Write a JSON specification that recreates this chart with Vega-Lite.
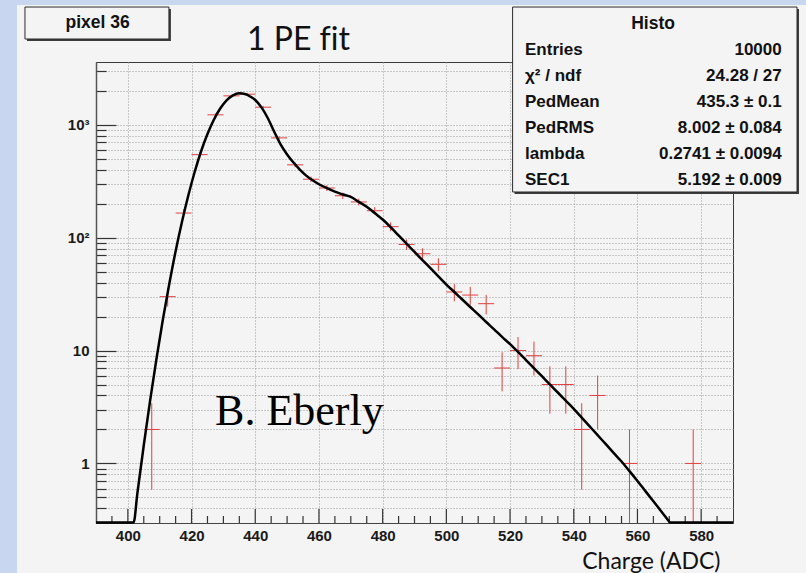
{
  "$schema": "https://vega.github.io/schema/vega-lite/v6.json",
  "width": 637,
  "height": 461,
  "autosize": {"type": "none"},
  "padding": {"left": 96, "top": 62, "right": 73, "bottom": 50},
  "background": "#f4f4f4",
  "config": {
    "view": {"stroke": "#3a3a3a", "strokeWidth": 1},
    "text": {"font": "Liberation Sans"}
  },
  "datasets": {
    "hist": [
      {"x": 407.5, "x0": 405, "x1": 410, "n": 2, "lo": 0.586, "hi": 3.414},
      {"x": 412.5, "x0": 410, "x1": 415, "n": 30, "lo": 24.52, "hi": 35.48},
      {"x": 417.5, "x0": 415, "x1": 420, "n": 165, "lo": 152.2, "hi": 177.8},
      {"x": 422.5, "x0": 420, "x1": 425, "n": 543, "lo": 519.7, "hi": 566.3},
      {"x": 427.5, "x0": 425, "x1": 430, "n": 1222, "lo": 1187, "hi": 1257},
      {"x": 432.5, "x0": 430, "x1": 435, "n": 1800, "lo": 1757.6, "hi": 1842.4},
      {"x": 437.5, "x0": 435, "x1": 440, "n": 1863, "lo": 1819.8, "hi": 1906.2},
      {"x": 442.5, "x0": 440, "x1": 445, "n": 1429, "lo": 1391.2, "hi": 1466.8},
      {"x": 447.5, "x0": 445, "x1": 450, "n": 764, "lo": 736.4, "hi": 791.6},
      {"x": 452.5, "x0": 450, "x1": 455, "n": 441, "lo": 420, "hi": 462},
      {"x": 457.5, "x0": 455, "x1": 460, "n": 329, "lo": 310.9, "hi": 347.1},
      {"x": 462.5, "x0": 460, "x1": 465, "n": 275, "lo": 258.4, "hi": 291.6},
      {"x": 467.5, "x0": 465, "x1": 470, "n": 235, "lo": 219.7, "hi": 250.3},
      {"x": 472.5, "x0": 470, "x1": 475, "n": 207, "lo": 192.6, "hi": 221.4},
      {"x": 477.5, "x0": 475, "x1": 480, "n": 173, "lo": 159.8, "hi": 186.2},
      {"x": 482.5, "x0": 480, "x1": 485, "n": 125, "lo": 113.8, "hi": 136.2},
      {"x": 487.5, "x0": 485, "x1": 490, "n": 87, "lo": 77.7, "hi": 96.3},
      {"x": 492.5, "x0": 490, "x1": 495, "n": 72, "lo": 63.5, "hi": 80.5},
      {"x": 497.5, "x0": 495, "x1": 500, "n": 58, "lo": 50.4, "hi": 65.6},
      {"x": 502.5, "x0": 500, "x1": 505, "n": 33, "lo": 27.3, "hi": 38.7},
      {"x": 507.5, "x0": 505, "x1": 510, "n": 31, "lo": 25.4, "hi": 36.6},
      {"x": 512.5, "x0": 510, "x1": 515, "n": 26, "lo": 20.9, "hi": 31.1},
      {"x": 517.5, "x0": 515, "x1": 520, "n": 7, "lo": 4.35, "hi": 9.65},
      {"x": 522.5, "x0": 520, "x1": 525, "n": 10, "lo": 6.84, "hi": 13.16},
      {"x": 527.5, "x0": 525, "x1": 530, "n": 9, "lo": 6, "hi": 12},
      {"x": 532.5, "x0": 530, "x1": 535, "n": 5, "lo": 2.76, "hi": 7.24},
      {"x": 537.5, "x0": 535, "x1": 540, "n": 5, "lo": 2.76, "hi": 7.24},
      {"x": 542.5, "x0": 540, "x1": 545, "n": 2, "lo": 0.586, "hi": 3.414},
      {"x": 547.5, "x0": 545, "x1": 550, "n": 4, "lo": 2, "hi": 6},
      {"x": 557.5, "x0": 555, "x1": 560, "n": 1, "lo": 0, "hi": 2},
      {"x": 577.5, "x0": 575, "x1": 580, "n": 1, "lo": 0, "hi": 2}
    ],
    "fit": [
      {"x": 390, "y": 0.3}, {"x": 401.8, "y": 0.3}, {"x": 403, "y": 0.546}, {"x": 405, "y": 1.45},
      {"x": 407, "y": 3.62}, {"x": 409, "y": 8.5}, {"x": 411, "y": 18.8}, {"x": 413, "y": 38.8},
      {"x": 415, "y": 75.8}, {"x": 417, "y": 138}, {"x": 419, "y": 237}, {"x": 421, "y": 383},
      {"x": 423, "y": 582}, {"x": 425, "y": 828}, {"x": 427, "y": 1107}, {"x": 429, "y": 1390},
      {"x": 431, "y": 1641}, {"x": 433, "y": 1819}, {"x": 435, "y": 1895}, {"x": 437, "y": 1862},
      {"x": 438.5, "y": 1770}, {"x": 440, "y": 1655}, {"x": 442, "y": 1415}, {"x": 444, "y": 1135},
      {"x": 446, "y": 862}, {"x": 448, "y": 665}, {"x": 450, "y": 545}, {"x": 452, "y": 462},
      {"x": 454, "y": 400}, {"x": 456, "y": 354}, {"x": 458, "y": 322}, {"x": 460, "y": 297},
      {"x": 462.5, "y": 274}, {"x": 465, "y": 255}, {"x": 467.5, "y": 241}, {"x": 470, "y": 229},
      {"x": 472.5, "y": 207}, {"x": 475, "y": 188}, {"x": 477.5, "y": 165}, {"x": 480, "y": 144.5},
      {"x": 482.5, "y": 123.6}, {"x": 485, "y": 104.5}, {"x": 487.5, "y": 88.3}, {"x": 490, "y": 74.8},
      {"x": 492.5, "y": 63.2}, {"x": 495, "y": 53.6}, {"x": 497.5, "y": 45.3}, {"x": 500, "y": 38.4},
      {"x": 502.5, "y": 33.0}, {"x": 505, "y": 28.3}, {"x": 507.5, "y": 24.3}, {"x": 510, "y": 20.9},
      {"x": 512.5, "y": 17.9}, {"x": 515, "y": 15.4}, {"x": 517.5, "y": 13.2}, {"x": 520, "y": 11.4},
      {"x": 522.5, "y": 9.72}, {"x": 525, "y": 8.24}, {"x": 527.5, "y": 6.98}, {"x": 530, "y": 5.92},
      {"x": 532.5, "y": 5.01}, {"x": 535, "y": 4.25}, {"x": 537.5, "y": 3.6}, {"x": 540, "y": 3.05},
      {"x": 542.5, "y": 2.55}, {"x": 545, "y": 2.13}, {"x": 547.5, "y": 1.78}, {"x": 550, "y": 1.49},
      {"x": 552.5, "y": 1.24}, {"x": 555, "y": 1.04}, {"x": 557.5, "y": 0.855}, {"x": 560, "y": 0.70},
      {"x": 562.5, "y": 0.569}, {"x": 565, "y": 0.462}, {"x": 567.5, "y": 0.376}, {"x": 570, "y": 0.305},
      {"x": 570.2, "y": 0.3}, {"x": 590, "y": 0.3}
    ],
    "minor_ticks": [
      {"x": 395}, {"x": 405}, {"x": 410}, {"x": 415}, {"x": 425}, {"x": 430}, {"x": 435},
      {"x": 445}, {"x": 450}, {"x": 455}, {"x": 465}, {"x": 470}, {"x": 475},
      {"x": 485}, {"x": 490}, {"x": 495}, {"x": 505}, {"x": 510}, {"x": 515},
      {"x": 525}, {"x": 530}, {"x": 535}, {"x": 545}, {"x": 550}, {"x": 555},
      {"x": 565}, {"x": 570}, {"x": 575}, {"x": 585}
    ],
    "major_ticks": [
      {"x": 400}, {"x": 420}, {"x": 440}, {"x": 460}, {"x": 480},
      {"x": 500}, {"x": 520}, {"x": 540}, {"x": 560}, {"x": 580}
    ],
    "stats": [
      {"row": 0, "label": "Entries", "value": "10000"},
      {"row": 1, "label": "χ² / ndf", "value": "24.28 / 27"},
      {"row": 2, "label": "PedMean", "value": "435.3 ± 0.1"},
      {"row": 3, "label": "PedRMS", "value": "8.002 ± 0.084"},
      {"row": 4, "label": "lambda", "value": "0.2741 ± 0.0094"},
      {"row": 5, "label": "SEC1", "value": "5.192 ± 0.009"}
    ]
  },
  "layer": [
    {
      "data": {"name": "hist"},
      "transform": [{"calculate": "max(datum.lo, 0.297)", "as": "lo_c"}],
      "mark": {"type": "rule", "color": "#e2403f", "strokeWidth": 1},
      "encoding": {
        "x": {
          "field": "x", "type": "quantitative",
          "scale": {"domain": [390, 590], "nice": false, "zero": false},
          "axis": {
            "title": "Charge (ADC)",
            "values": [400, 420, 440, 460, 480, 500, 520, 540, 560, 580],
            "format": "d",
            "ticks": false,
            "labelFont": "Liberation Sans",
            "labelFontSize": 15, "labelFontWeight": "bold", "labelColor": "#1a1a1a",
            "labelPadding": 5, "labelFlush": false, "labelOverlap": false,
            "domainColor": "#444444", "domainWidth": 1.2,
            "grid": true, "gridColor": "#9a9a9a", "gridDash": [1, 2], "gridWidth": 1,
            "titleFont": "Lato", "titleFontSize": 23, "titleFontWeight": "normal", "titleColor": "#111111",
            "titleAlign": "right", "titleBaseline": "alphabetic", "titleX": 624, "titleY": 45
          }
        },
        "y": {
          "field": "lo_c", "type": "quantitative",
          "scale": {"type": "log", "domain": [0.297, 3590], "nice": false},
          "axis": {
            "title": null,
            "values": [0.4, 0.5, 0.6, 0.7, 0.8, 0.9, 1, 2, 3, 4, 5, 6, 7, 8, 9, 10, 20, 30, 40, 50, 60, 70, 80, 90, 100, 200, 300, 400, 500, 600, 700, 800, 900, 1000, 2000, 3000],
            "labelExpr": "datum.value === 1 ? '1' : datum.value === 10 ? '10' : datum.value === 100 ? '10²' : datum.value === 1000 ? '10³' : ''",
            "labelFont": "Liberation Sans",
            "labelFontSize": 15, "labelFontWeight": "bold", "labelColor": "#1a1a1a",
            "labelPadding": 27, "labelFlush": false, "labelOverlap": false,
            "tickSize": {"condition": {"test": "datum.value === 1 || datum.value === 10 || datum.value === 100 || datum.value === 1000", "value": -20}, "value": -10},
            "tickColor": "#333333", "tickWidth": 1.2,
            "domainColor": "#555555", "domainWidth": 1.5,
            "grid": true, "gridColor": "#9a9a9a", "gridDash": [1, 2], "gridWidth": 1
          }
        },
        "y2": {"field": "hi"}
      }
    },
    {
      "data": {"name": "minor_ticks"},
      "mark": {"type": "rule", "color": "#333333", "strokeWidth": 1.2},
      "encoding": {
        "x": {"field": "x", "type": "quantitative"},
        "y": {"datum": 0.297},
        "y2": {"datum": 0.3427}
      }
    },
    {
      "data": {"name": "major_ticks"},
      "mark": {"type": "rule", "color": "#333333", "strokeWidth": 1.2},
      "encoding": {
        "x": {"field": "x", "type": "quantitative"},
        "y": {"datum": 0.297},
        "y2": {"datum": 0.3952}
      }
    },
    {
      "data": {"name": "hist"},
      "mark": {"type": "rule", "color": "#e2403f", "strokeWidth": 1},
      "encoding": {
        "x": {"field": "x0", "type": "quantitative"},
        "x2": {"field": "x1"},
        "y": {"field": "n", "type": "quantitative"}
      }
    },
    {
      "data": {"name": "fit"},
      "mark": {"type": "line", "color": "#000000", "strokeWidth": 2.5, "interpolate": "monotone", "clip": false},
      "encoding": {
        "x": {"field": "x", "type": "quantitative"},
        "y": {"field": "y", "type": "quantitative"}
      }
    },
    {
      "data": {"values": [{}]},
      "mark": {"type": "text", "font": "Liberation Serif", "fontSize": 44, "align": "left", "baseline": "alphabetic", "color": "#000000"},
      "encoding": {"x": {"datum": 427.4}, "y": {"datum": 2.19}, "text": {"value": "B. Eberly"}}
    },
    {
      "data": {"values": [{}]},
      "mark": {"type": "rect", "color": "#c8d7ef"},
      "encoding": {"x": {"datum": 300}, "x2": {"datum": 365.2}, "y": {"datum": 1000000}, "y2": {"datum": 0.01}}
    },
    {
      "data": {"values": [{}]},
      "mark": {"type": "rect", "color": "#c8d7ef"},
      "encoding": {"x": {"datum": 300}, "x2": {"datum": 700}, "y": {"datum": 1000000}, "y2": {"datum": 11474}}
    },
    {
      "data": {"values": [{}]},
      "mark": {"type": "rect", "color": "#3c3c3c", "xOffset": 2, "x2Offset": 2, "yOffset": 2, "y2Offset": 2},
      "encoding": {"x": {"datum": 367.7}, "x2": {"datum": 412.9}, "y": {"datum": 11015}, "y2": {"datum": 5737}}
    },
    {
      "data": {"values": [{}]},
      "mark": {"type": "rect", "fill": "#f4f4f4", "stroke": "#2a2a2a", "strokeWidth": 1},
      "encoding": {"x": {"datum": 367.7}, "x2": {"datum": 412.9}, "y": {"datum": 11015}, "y2": {"datum": 5737}}
    },
    {
      "data": {"values": [{}]},
      "mark": {"type": "text", "fontSize": 17.5, "fontWeight": "bold", "align": "center", "baseline": "middle", "color": "#111111"},
      "encoding": {"x": {"datum": 390.5}, "y": {"datum": 7889}, "text": {"value": "pixel 36"}}
    },
    {
      "data": {"values": [{}]},
      "mark": {"type": "text", "font": "Lato", "fontSize": 32, "align": "left", "baseline": "alphabetic", "color": "#111111"},
      "encoding": {"x": {"datum": 437.4}, "y": {"datum": 4585}, "text": {"value": "1 PE f‌it"}}
    },
    {
      "data": {"values": [{}]},
      "mark": {"type": "rect", "color": "#3c3c3c", "xOffset": 2, "x2Offset": 2, "yOffset": 2, "y2Offset": 2},
      "encoding": {"x": {"datum": 520.8}, "x2": {"datum": 610.1}, "y": {"datum": 11015}, "y2": {"datum": 253.5}}
    },
    {
      "data": {"values": [{}]},
      "mark": {"type": "rect", "fill": "#f4f4f4", "stroke": "#2a2a2a", "strokeWidth": 1},
      "encoding": {"x": {"datum": 520.8}, "x2": {"datum": 610.1}, "y": {"datum": 11015}, "y2": {"datum": 253.5}}
    },
    {
      "data": {"values": [{}]},
      "mark": {"type": "text", "fontSize": 17.5, "fontWeight": "bold", "align": "center", "baseline": "middle", "color": "#111111"},
      "encoding": {"x": {"datum": 564.9}, "y": {"datum": 7737}, "text": {"value": "Histo"}}
    },
    {
      "data": {"name": "stats"},
      "mark": {"type": "text", "fontSize": 17, "fontWeight": "bold", "align": "left", "baseline": "middle", "color": "#111111", "yOffset": {"expr": "26 * datum.row"}},
      "encoding": {"x": {"datum": 524.7}, "y": {"datum": 4585}, "text": {"field": "label"}}
    },
    {
      "data": {"name": "stats"},
      "mark": {"type": "text", "fontSize": 17, "fontWeight": "bold", "align": "right", "baseline": "middle", "color": "#111111", "yOffset": {"expr": "26 * datum.row"}},
      "encoding": {"x": {"datum": 605.3}, "y": {"datum": 4585}, "text": {"field": "value"}}
    }
  ]
}
